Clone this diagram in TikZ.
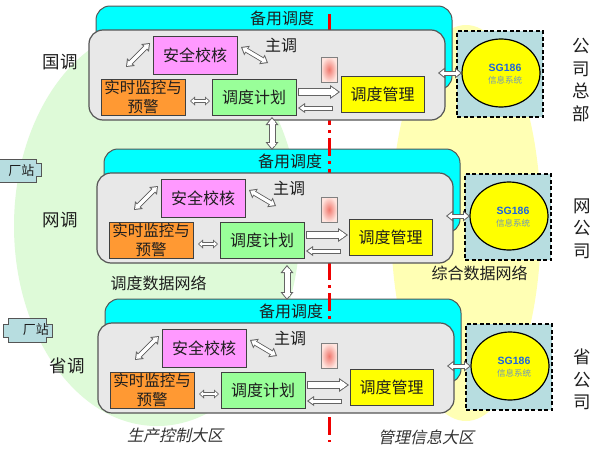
\documentclass[tikz,border=0pt]{standalone}
\usepackage{fontspec}
\setmainfont{Liberation Sans}
\newfontfamily\cjk{Noto Sans CJK SC}
\newfontfamily\cjkit[FakeSlant=0.22]{Noto Sans CJK SC}
\usetikzlibrary{shapes.geometric,arrows.meta,calc}
\definecolor{bggreen}{RGB}{222,250,216}
\definecolor{bgyellow}{RGB}{255,255,180}
\definecolor{cyanbox}{RGB}{0,255,255}
\definecolor{greybox}{RGB}{232,232,232}
\definecolor{edge}{RGB}{85,85,85}
\definecolor{boxedge}{RGB}{64,64,64}
\definecolor{magbox}{RGB}{255,153,255}
\definecolor{orangebox}{RGB}{255,153,51}
\definecolor{greenbox}{RGB}{153,255,153}
\definecolor{yellowbox}{RGB}{255,255,0}
\definecolor{sgboxc}{RGB}{183,221,224}
\definecolor{sgblue}{RGB}{30,100,220}
\definecolor{xxblue}{RGB}{110,150,190}
\definecolor{agray}{RGB}{100,100,100}
\definecolor{redline}{RGB}{240,0,0}
\definecolor{pinkin}{RGB}{240,120,110}
\definecolor{pinkout}{RGB}{255,228,222}
\definecolor{txt}{RGB}{30,30,30}
\newcommand{\fsz}[2]{\fontsize{#1}{#2}\selectfont}
\tikzset{
  every node/.style={inner sep=0pt, outer sep=0pt, text=txt},
  cyanbk/.style={draw=edge, line width=1pt, fill=cyanbox, rounded corners=14pt, minimum width=356pt, minimum height=84pt},
  greybk/.style={draw=edge, line width=1.2pt, fill=greybox, rounded corners=14pt, minimum width=356pt, minimum height=90pt},
  modbox/.style={draw=boxedge, line width=1pt, minimum width=84pt, minimum height=36pt, font=\cjk\fsz{16}{19}, align=center},
  bkl/.style={font=\cjk\fsz{16}{19}},
  zt/.style={font=\cjk\fsz{16}{19}},
  lab/.style={font=\cjk\fsz{17.5}{22.5}, align=center},
  netl/.style={font=\cjk\fsz{16}{19}},
  areal/.style={font=\cjkit\fsz{16}{19}, text=black!80},
  sgbk/.style={draw=black, line width=1.6pt, dash pattern=on 4pt off 2.5pt, fill=sgboxc, minimum width=86pt, minimum height=86pt},
  sgell/.style={ellipse, draw=black, line width=1.2pt, fill=yellowbox, minimum width=78pt, minimum height=68pt},
  sgt/.style={font=\bfseries\fsz{10.5}{12}, text=sgblue},
  xxt/.style={font=\cjk\fsz{8.5}{10}, text=xxblue},
  pinkbk/.style={draw=gray, line width=0.8pt, minimum width=16pt, minimum height=25pt, inner color=pinkin, outer color=pinkout},
  czshape/.style={draw=edge, line width=1pt, fill=sgboxc},
  czt/.style={font=\cjk\fsz{13}{15}},
  redl/.style={draw=redline, line width=3pt, dash pattern=on 18pt off 5pt on 3pt off 5pt},
  hol2/.style n args={8}{draw=agray, line width=#1pt,
    {Triangle[width=#3pt,length=#4pt,line width=0pt]}-{Triangle[width=#3pt,length=#4pt,line width=0pt]},
    postaction={draw=white, line width=#2pt, shorten <=#5pt, shorten >=#5pt,
      {Triangle[width=#6pt,length=#7pt,line width=0pt]}-{Triangle[width=#6pt,length=#7pt,line width=0pt]}},
    postaction={draw=white, line width=#2pt, shorten <=#8pt, shorten >=#8pt, -}},
  hol1/.style n args={8}{draw=agray, line width=#1pt,
    -{Triangle[width=#3pt,length=#4pt,line width=0pt]},
    postaction={draw=white, line width=#2pt, shorten <=1pt, shorten >=#5pt,
      -{Triangle[width=#6pt,length=#7pt,line width=0pt]}},
    postaction={draw=white, line width=#2pt, shorten <=1pt, shorten >=#8pt, -}},
  bigv/.style={hol2={7}{5}{13}{8}{1.59}{8.8}{5.41}{4.3}},
  bigr/.style={hol1={8}{6}{14}{10}{1.74}{10.16}{7.26}{5.3}},
  med2/.style={hol2={5}{3}{11}{7}{1.62}{6.88}{4.38}{3.8}},
  med1/.style={hol1={5}{3}{10}{7}{1.72}{6.11}{4.28}{3.8}},
  sml2/.style={hol2={4}{2.4}{9}{5}{1.2}{5.4}{3.0}{2.7}}
}
\begin{document}
\begin{tikzpicture}[x=1pt,y=-1pt]
\useasboundingbox (0,0) rectangle (600,450);
\fill[white] (0,0) rectangle (600,450);
% background areas
\fill[bggreen] (157,226) ellipse [x radius=143pt, y radius=200pt];
\fill[bgyellow] (466,223) ellipse [x radius=75pt, y radius=198pt];
% plant stations
\begin{scope}
  \clip (0,0) rectangle (600,450);
  \draw[czshape] (-8,163) -- (-2,163) -- (-2,159) -- (36,159) -- (36,163) -- (41,163) -- (41,176) -- (36,176) -- (36,182) -- (-2,182) -- (-2,176) -- (-8,176) -- cycle;
\end{scope}
\node[czt] (cz2) at (21.5,170.5) {厂站};
\draw[czshape] (3,324) -- (8,324) -- (8,318) -- (46,318) -- (46,324) -- (52,324) -- (52,337) -- (46,337) -- (46,342) -- (8,342) -- (8,337) -- (3,337) -- cycle;
\node[czt] (cz3) at (36,330) {厂站};
% backup boxes
\foreach \t/\dx/\dy in {1/0/0,2/8/143,3/9/293}{
  \begin{scope}[shift={(\dx,\dy)}]
    \node[cyanbk] (cy\t) at (274,48) {};
    \node[bkl] (bk\t) at (282,18) {备用调度};
  \end{scope}
}
% zone border
\draw[redl] (329,14) -- (329,442);
% tiers
\foreach \t/\dx/\dy/\py in {1/0/0/69.5,2/8/143/209.5,3/9/293/356}{
  \begin{scope}[shift={(\dx,\dy)}]
    \node[greybk] (gr\t) at (267,75) {};
    \node[modbox, fill=magbox, minimum height=38pt] (aq\t) at (195,55) {安全校核};
    \node[modbox, fill=orangebox, font=\cjk\fsz{15.5}{19}] (jk\t) at (143,97) {实时监控与\\预警};
    \node[modbox, fill=greenbox] (jh\t) at (254,97) {调度计划};
    \node[modbox, fill=yellowbox, minimum width=83pt] (gl\t) at (382.5,94) {调度管理};
    \node[zt] (zd\t) at (281,45) {主调};
    \node[sgbk] (sg\t) at (500,74) {};
    \node[sgell] (el\t) at (501,73) {};
    \node[sgt] (sgt\t) at (505,68) {SG186};
    \node[xxt] (xxt\t) at (505,80) {信息系统};
  \end{scope}
  \node[pinkbk] (pk\t) at (329,\py) {};
  \draw[med2] ($(aq\t.west)+(-27,12)$) -- ($(aq\t.west)+(-3,-12)$);
  \draw[med2] ($(aq\t.east)+(4,-8)$) -- ($(aq\t.east)+(31,8)$);
  \draw[sml2] ($(jk\t.east)+(5,4)$) -- ($(jh\t.west)+(-2,4)$);
  \draw[bigr] ($(jh\t.east)+(2,-5)$) -- ($(gl\t.west)+(-1,-2)$);
  \draw[med1] ($(gl\t.west)+(-8,14)$) -- ($(jh\t.east)+(2,11)$);
  \draw[med2] ($(gr\t.east)+(-7,-2)$) -- (el\t.west);
}
% links between tiers
\draw[bigv] ($(gr1.south)+(5,-3)$) -- ($(cy2.north)+(-10,1)$);
\draw[bigv] ($(gr2.south)+(12,2)$) -- ($(cy3.north)+(4,1)$);
% side labels
\node[lab] (l1) at (60,62) {国调};
\node[lab] (l2) at (60,220) {网调};
\node[lab] (l3) at (67,366) {省调};
\node[lab] (r1) at (581,80) {公\\司\\总\\部};
\node[lab] (r2) at (582,228.5) {网\\公\\司};
\node[lab] (r3) at (582,379.5) {省\\公\\司};
\node[netl] (n1) at (158.5,283) {调度数据网络};
\node[netl] (n2) at (479.5,273) {综合数据网络};
\node[areal] (a1) at (175,435) {生产控制大区};
\node[areal] (a2) at (426,437) {管理信息大区};
\end{tikzpicture}
\end{document}
